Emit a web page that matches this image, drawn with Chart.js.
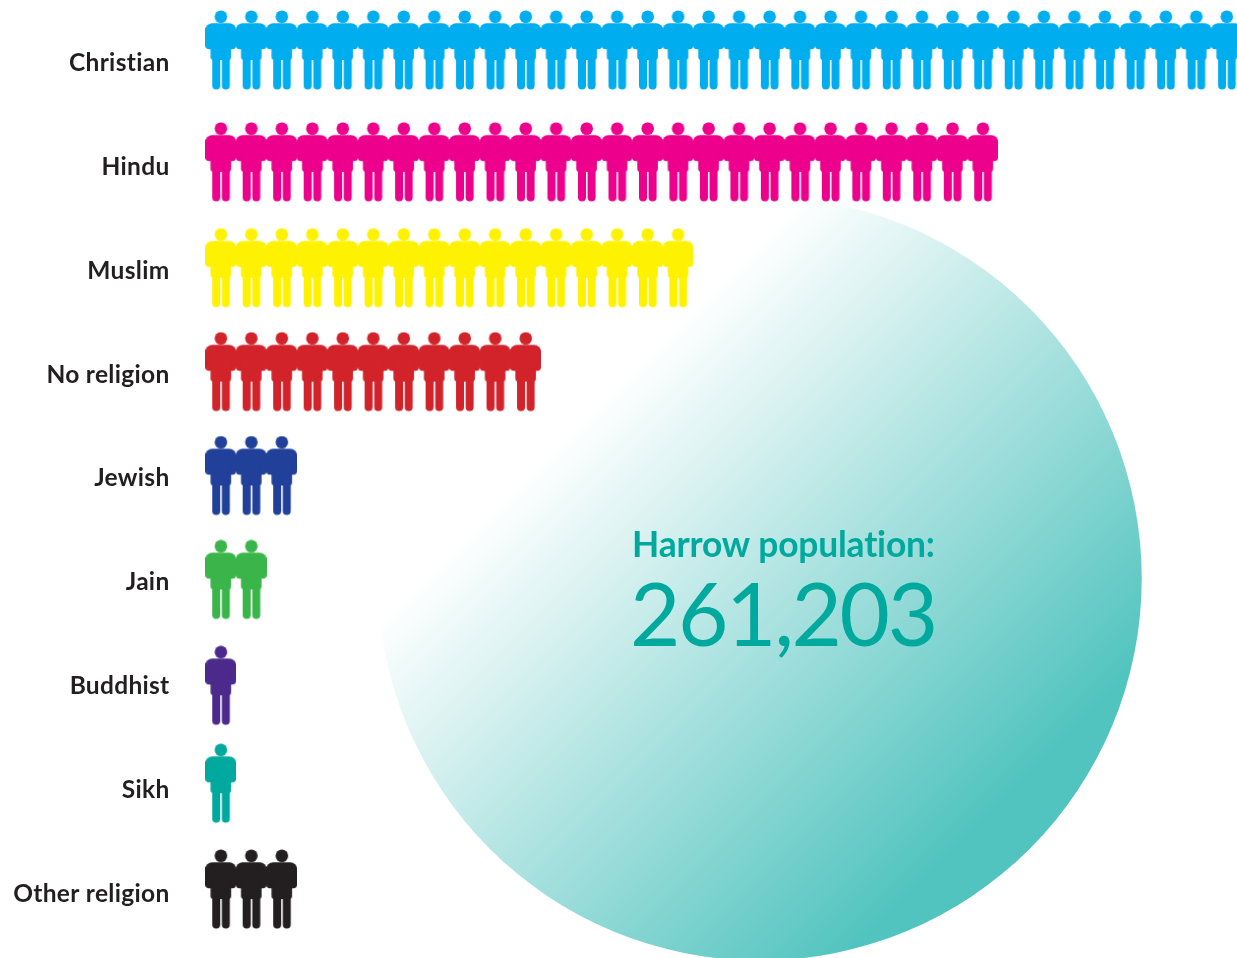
<!DOCTYPE html>
<html>
<head>
<meta charset="utf-8">
<title>Harrow population by religion</title>
<script src="https://cdn.jsdelivr.net/npm/chart.js@4"></script>
<style>
    html, body { margin: 0; padding: 0; background: #fff; overflow: hidden; }
    canvas { display: block; }
</style>
</head>
<body>
<canvas id="religionChart" width="1237" height="958"></canvas>
<script>
const categories = ['Christian', 'Hindu', 'Muslim', 'No religion', 'Jewish', 'Jain', 'Buddhist', 'Sikh', 'Other religion'];
const figureCounts = [34, 26, 16, 11, 3, 2, 1, 1, 3];
const populationLabel = 'Harrow population:';
const populationValue = '261,203';

const rowColors = ['#00aeef', '#ec008c', '#fff200', '#d2232a', '#21409a', '#39b54a', '#4b2a8c', '#00a99d', '#231f20'];
// the figures do not sit quite level with their labels
const rowNudge = [-13, -5, -3, -3, -3, -3, -1, -7, -5];

// a bubble this big would otherwise push the chart area in by its radius
class BackdropBubble extends Chart.BubbleController {
    getMaxOverflow() { return 0; }
}
BackdropBubble.id = 'backdropBubble';
BackdropBubble.defaults = Chart.BubbleController.defaults;
Chart.register(BackdropBubble);

function makeFigure(color, nudge) {
    const pad = Math.abs(nudge);
    const c = document.createElement('canvas');
    c.width = 31;
    c.height = 80 + pad * 2;
    const g = c.getContext('2d');
    g.fillStyle = color;
    g.translate(0, pad + nudge);
    g.beginPath();
    g.arc(15.7, 6.7, 6.3, 0, Math.PI * 2);
    g.fill();
    g.beginPath();
    g.roundRect(0, 13.2, 31, 26, [7, 7, 4, 4]);
    g.fill();
    g.beginPath();
    g.roundRect(5.3, 30, 20.6, 20, [0, 0, 3, 3]);
    g.fill();
    g.beginPath();
    g.roundRect(7, 45, 8, 34.4, [0, 0, 4, 4]);
    g.roundRect(16.6, 45, 8, 34.4, [0, 0, 4, 4]);
    g.fill();
    return c;
}

const figureDatasets = categories.map((name, row) => {
    const points = [];
    for (let i = 1; i <= figureCounts[row]; i++) {
        points.push({ x: i, y: name });
    }
    return {
        type: 'scatter',
        label: name,
        data: points,
        xAxisID: 'x',
        yAxisID: 'y',
        pointStyle: makeFigure(rowColors[row], rowNudge[row]),
        pointRadius: 0.5,
        pointHoverRadius: 0.5,
        pointBorderWidth: 0,
        clip: false
    };
});

const circleDataset = {
    type: 'backdropBubble',
    label: 'Population',
    data: [{ x: 53.78, y: 39.3, r: 382 }],
    xAxisID: 'xCircle',
    yAxisID: 'yCircle',
    borderWidth: 0,
    clip: false,
    backgroundColor: (ctx) => {
        const { chart } = ctx;
        if (!chart.chartArea) return '#52c4bf';
        const cx = chart.scales.xCircle.getPixelForValue(53.78);
        const cy = chart.scales.yCircle.getPixelForValue(39.3);
        const grad = chart.ctx.createLinearGradient(cx - 169, cy - 169, cx + 231, cy + 231);
        grad.addColorStop(0, '#ffffff');
        grad.addColorStop(1, '#52c4bf');
        return grad;
    }
};

const populationText = {
    id: 'populationText',
    beforeDraw(chart) {
        // any spacing also stops Lato joining the "ti" in Christian
        chart.ctx.letterSpacing = '0.3px';
    },
    afterDatasetsDraw(chart) {
        const g = chart.ctx;
        const { xCircle, yCircle } = chart.scales;
        g.save();
        g.fillStyle = '#00a99d';
        g.textAlign = 'left';
        g.textBaseline = 'alphabetic';
        g.font = '700 35.4px Lato';
        g.letterSpacing = '-0.2px';
        g.fillText(populationLabel, xCircle.getPixelForValue(41.4), yCircle.getPixelForValue(41.6));
        g.font = '400 87px Lato';
        g.letterSpacing = '-2.4px';
        g.fillText(populationValue, xCircle.getPixelForValue(41.2), yCircle.getPixelForValue(32.1));
        g.restore();
    }
};

new Chart(document.getElementById('religionChart'), {
    data: { datasets: [...figureDatasets, circleDataset] },
    plugins: [populationText],
    options: {
        responsive: false,
        animation: false,
        layout: { padding: { top: 11, bottom: 12, left: 0, right: 0 } },
        plugins: {
            legend: { display: false },
            tooltip: { enabled: false }
        },
        scales: {
            x: {
                type: 'linear',
                display: false,
                min: 0.485,
                max: 34.325
            },
            y: {
                type: 'category',
                labels: categories,
                offset: true,
                grid: { display: false, drawTicks: false },
                border: { display: false },
                ticks: {
                    autoSkip: false,
                    padding: 35.5,
                    color: '#231f20',
                    font: { family: 'Lato', size: 24.5, weight: '700' }
                },
                afterFit: (scale) => {
                    scale.width = 205;
                    // tick padding is meant for the labels' gap, not the top and bottom of the axis
                    scale.paddingTop = 0;
                    scale.paddingBottom = 0;
                }
            },
            xCircle: { type: 'linear', display: false, min: 0, max: 100 },
            yCircle: { type: 'linear', display: false, min: 0, max: 100 }
        }
    }
});
</script>
</body>
</html>
